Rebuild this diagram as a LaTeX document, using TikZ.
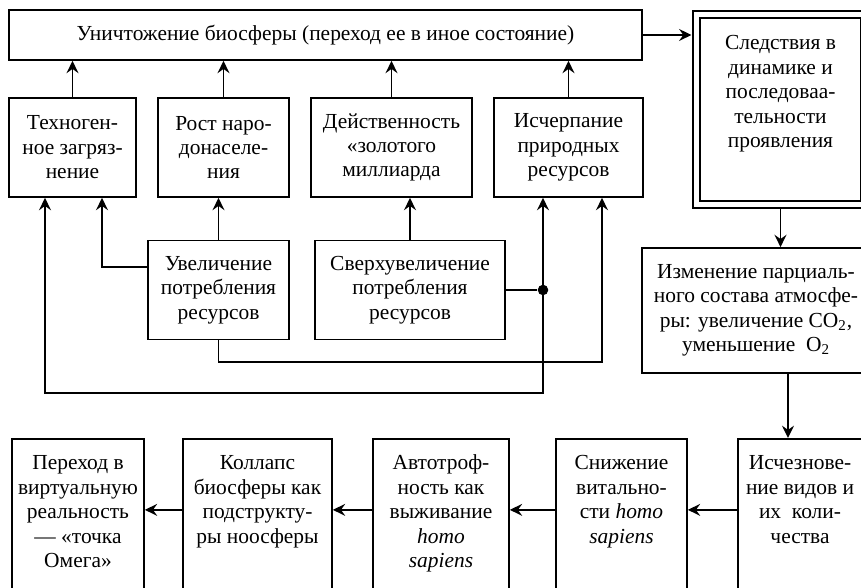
\documentclass[tikz,border=0pt]{standalone}
\usepackage{fontspec}
\setmainfont{Liberation Serif}
\usetikzlibrary{arrows.meta,calc}

\begin{document}
\begin{tikzpicture}[
  line width=1pt,
  font=\fontsize{12.2pt}{13.9pt}\selectfont,
  >={Stealth[length=7pt,width=6.8pt,inset=2.4pt]},
  box/.style={draw, align=center, inner sep=2pt, minimum height=1.98cm},
  topbox/.style={draw, align=center, anchor=north, inner ysep=0pt,
    text height=0.62cm+#1*13.9pt, text depth=2.48cm-#1*13.9pt},
  dot/.style={circle, fill, inner sep=0pt, minimum size=6pt}
]
  % Page frame
  \useasboundingbox (0,0) rectangle (17.22,11.76);
  \clip (0,0) rectangle (17.22,11.76);

  % Top box and causes
  \node[box, minimum width=12.66cm, minimum height=1cm] (top) at (6.51,11.06)
    {Уничтожение биосферы (переход ее в иное состояние)};
  \node[box, minimum width=2.54cm] (tech) at (1.45,8.81)
    {Техноген-\\ное загряз-\\нение};
  \node[box, minimum width=2.62cm] (rost) at (4.47,8.81)
    {Рост наро-\\донаселе-\\ния};
  \node[box, minimum width=3.22cm] (deyst) at (7.83,8.81)
    {Действенность\\«золотого\\миллиарда};
  \node[box, minimum width=2.98cm] (ischerp) at (11.37,8.81)
    {Исчерпание\\природных\\ресурсов};
  \node[box, minimum width=2.82cm] (uvel) at (4.37,5.96)
    {Увеличение\\потребления\\ресурсов};
  \node[box, minimum width=3.80cm] (sverh) at (8.20,5.96)
    {Сверхувеличение\\потребления\\ресурсов};

  % Right column
  \node[draw, double, double distance=2.8pt, align=center, anchor=north,
    inner ysep=0pt, minimum width=3.36cm,
    text height=0.71cm+4*13.9pt, text depth=3.09cm-4*13.9pt]
    (sled) at (15.61,11.49)
    {Следствия в\\динамике и\\последоваа-\\тельности\\проявления};
  \node[box, minimum width=4.56cm, minimum height=2.5cm] (izm) at (15.12,5.55)
    {Изменение парциаль-\\ного состава атмосфе-\\ры: увеличение CO\textsubscript{2},\\уменьшение~ O\textsubscript{2}};

  % Bottom row
  \node[topbox=3, minimum width=2.48cm] (ischez) at (16.00,3.0)
    {Исчезнове-\\ние видов и\\их~ коли-\\чества};
  \node[topbox=3, minimum width=2.62cm] (snizh) at (12.43,3.0)
    {Снижение\\витально-\\сти \textit{homo}\\\textit{sapiens}};
  \node[topbox=4, minimum width=2.72cm] (avto) at (8.82,3.0)
    {Автотроф-\\ность как\\выживание\\\textit{homo}\\\textit{sapiens}};
  \node[topbox=3, minimum width=2.98cm] (koll) at (5.15,3.0)
    {Коллапс\\биосферы как\\подструкту-\\ры ноосферы};
  \node[topbox=4, minimum width=2.64cm] (perekh) at (1.56,3.0)
    {Переход в\\виртуальную\\реальность\\— «точка\\Омега»};

  % Arrows in the upper block
  \foreach \n in {tech,rost,deyst,ischerp}
    \draw[->] (\n.north) -- (\n.north |- top.south);
  \draw[->] (uvel.north) -- (uvel.north |- rost.south);
  \draw[->] (sverh.north) -- (sverh.north |- deyst.south);
  \draw[->] ([yshift=4.6mm]uvel.west) -| ([xshift=5.9mm]tech.south);
  \draw[->] (uvel.south) -- ++(0,-0.43) -| ([xshift=6.7mm]ischerp.south);
  \coordinate (drop) at ($(ischerp.south)+(-0.51,0)$);
  \draw[<->, line width=1.5pt] (drop) -- ++(0,-3.90) -| ([xshift=-5.5mm]tech.south);
  \node[dot] (jn) at (sverh.east -| drop) {};
  \draw (sverh.east) -- (jn);

  % Arrows on the right and below
  \draw[->, shorten >=2.4pt] (top.east) -- (top.east -| sled.west);
  \draw[->, shorten <=2.4pt] (sled.south) -- (sled.south |- izm.north);
  \coordinate (fall) at ($(ischez.north)+(-0.24,0)$);
  \draw[->] (fall |- izm.south) -- (fall);
  \foreach \a/\b in {ischez/snizh, snizh/avto, avto/koll, koll/perekh}
    \draw[->] ([yshift=1.3mm]\a.west) -- ([yshift=1.3mm]\b.east);
\end{tikzpicture}
\end{document}
